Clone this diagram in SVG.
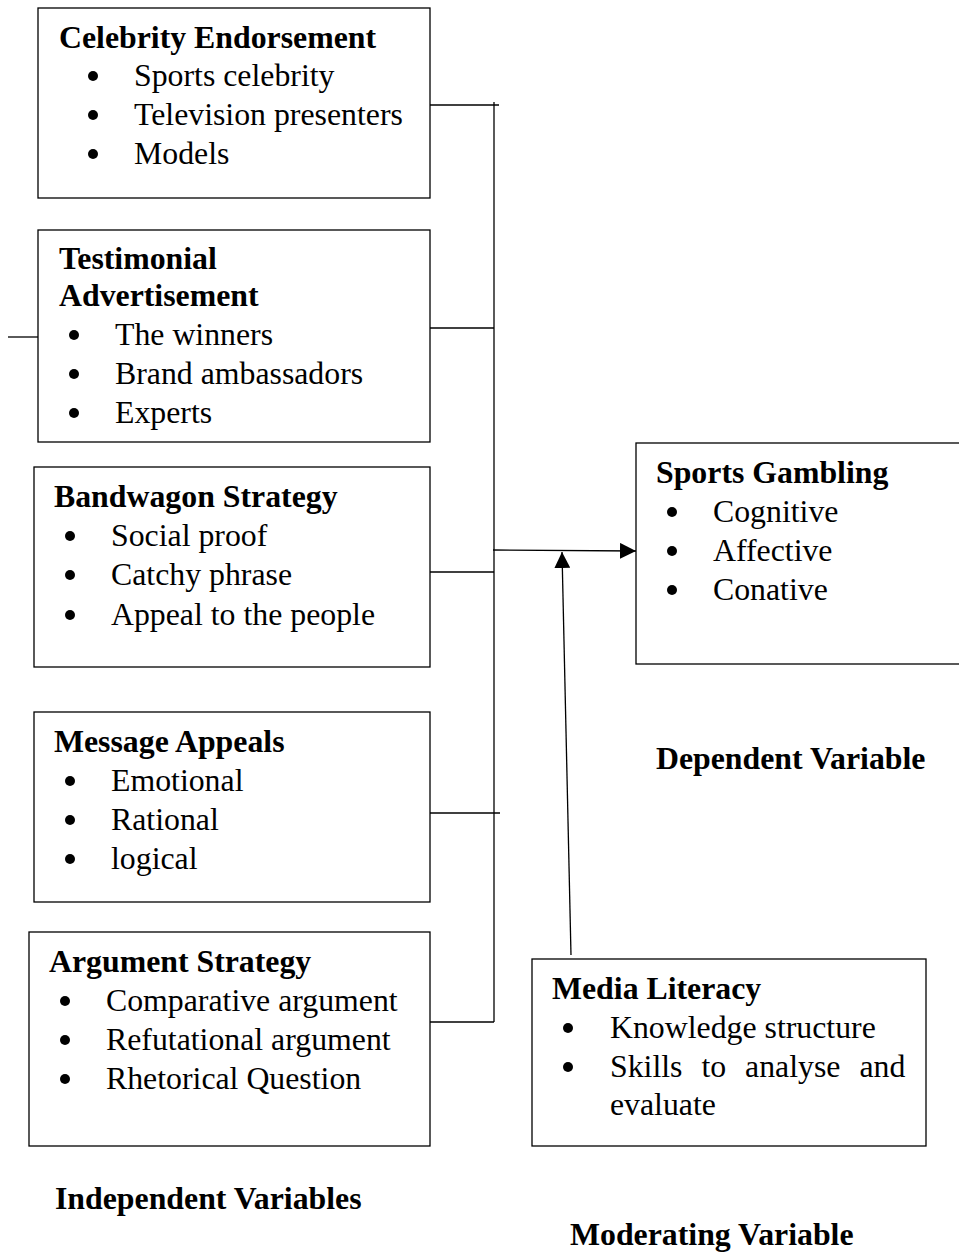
<svg xmlns="http://www.w3.org/2000/svg" width="959" height="1252" viewBox="0 0 959 1252">
<style>
.box{fill:#fff;stroke:#000;stroke-width:1.3}
text{font-family:"Liberation Serif","Times New Roman",serif;font-size:31.8px;fill:#000}
.b{font-weight:bold}
.ln{stroke:#000;stroke-width:1.3;fill:none}
.dot{fill:#000}
</style>
<defs>
<marker id="ah2" markerWidth="16" markerHeight="16" refX="16" refY="8" orient="auto" markerUnits="userSpaceOnUse" viewBox="0 0 16 16">
<path d="M0,0 L16,8 L0,16 z" fill="#000"/>
</marker>
</defs>
<g id="connectors">
<line class="ln" x1="494" y1="102" x2="494" y2="1022"/>
<line class="ln" x1="430" y1="105" x2="499" y2="105"/>
<line class="ln" x1="430" y1="328" x2="494" y2="328"/>
<line class="ln" x1="8" y1="337" x2="38" y2="337"/>
<line class="ln" x1="430" y1="572" x2="494" y2="572"/>
<line class="ln" x1="425" y1="813" x2="500" y2="813"/>
<line class="ln" x1="430" y1="1022" x2="494" y2="1022"/>
<line class="ln" x1="493" y1="550" x2="636" y2="551" marker-end="url(#ah2)"/>
<line class="ln" x1="571" y1="955" x2="562" y2="552" marker-end="url(#ah2)"/>
</g>
<g id="celebrity">
<rect class="box" x="38" y="8" width="392" height="190"/>
<text class="b" x="59" y="48">Celebrity Endorsement</text>
<circle class="dot" cx="93" cy="76" r="5"/><text x="134" y="86">Sports celebrity</text>
<circle class="dot" cx="93" cy="115" r="5"/><text x="134" y="125">Television presenters</text>
<circle class="dot" cx="93" cy="154" r="5"/><text x="134" y="164">Models</text>
</g>
<g id="testimonial">
<rect class="box" x="38" y="230" width="392" height="212"/>
<text class="b" x="59" y="269">Testimonial</text>
<text class="b" x="59" y="306">Advertisement</text>
<circle class="dot" cx="74" cy="335" r="5"/><text x="115" y="345">The winners</text>
<circle class="dot" cx="74" cy="374" r="5"/><text x="115" y="384">Brand ambassadors</text>
<circle class="dot" cx="74" cy="413" r="5"/><text x="115" y="423">Experts</text>
</g>
<g id="bandwagon">
<rect class="box" x="34" y="467" width="396" height="200"/>
<text class="b" x="54" y="507">Bandwagon Strategy</text>
<circle class="dot" cx="70" cy="536" r="5"/><text x="111" y="546">Social proof</text>
<circle class="dot" cx="70" cy="575" r="5"/><text x="111" y="585">Catchy phrase</text>
<circle class="dot" cx="70" cy="615" r="5"/><text x="111" y="625">Appeal to the people</text>
</g>
<g id="message">
<rect class="box" x="34" y="712" width="396" height="190"/>
<text class="b" x="54" y="752">Message Appeals</text>
<circle class="dot" cx="70" cy="781" r="5"/><text x="111" y="791">Emotional</text>
<circle class="dot" cx="70" cy="820" r="5"/><text x="111" y="830">Rational</text>
<circle class="dot" cx="70" cy="859" r="5"/><text x="111" y="869">logical</text>
</g>
<g id="argument">
<rect class="box" x="29" y="932" width="401" height="214"/>
<text class="b" x="49" y="972">Argument Strategy</text>
<circle class="dot" cx="65" cy="1001" r="5"/><text x="106" y="1011">Comparative argument</text>
<circle class="dot" cx="65" cy="1040" r="5"/><text x="106" y="1050">Refutational argument</text>
<circle class="dot" cx="65" cy="1079" r="5"/><text x="106" y="1089">Rhetorical Question</text>
</g>
<g id="sports">
<rect class="box" x="636" y="443" width="330" height="221"/>
<text class="b" x="656" y="483">Sports Gambling</text>
<circle class="dot" cx="672" cy="512" r="5"/><text x="713" y="522">Cognitive</text>
<circle class="dot" cx="672" cy="551" r="5"/><text x="713" y="561">Affective</text>
<circle class="dot" cx="672" cy="590" r="5"/><text x="713" y="600">Conative</text>
</g>
<g id="media">
<rect class="box" x="532" y="959" width="394" height="187"/>
<text class="b" x="552" y="999">Media Literacy</text>
<circle class="dot" cx="568" cy="1028" r="5"/><text x="610" y="1038">Knowledge structure</text>
<circle class="dot" cx="568" cy="1067" r="5"/><text x="610" y="1077" word-spacing="11">Skills to analyse and</text>
<text x="610" y="1115">evaluate</text>
</g>
<g id="labels">
<text class="b" x="656" y="769">Dependent Variable</text>
<text class="b" x="55" y="1209">Independent Variables</text>
<text class="b" x="570" y="1245">Moderating Variable</text>
</g>
</svg>
